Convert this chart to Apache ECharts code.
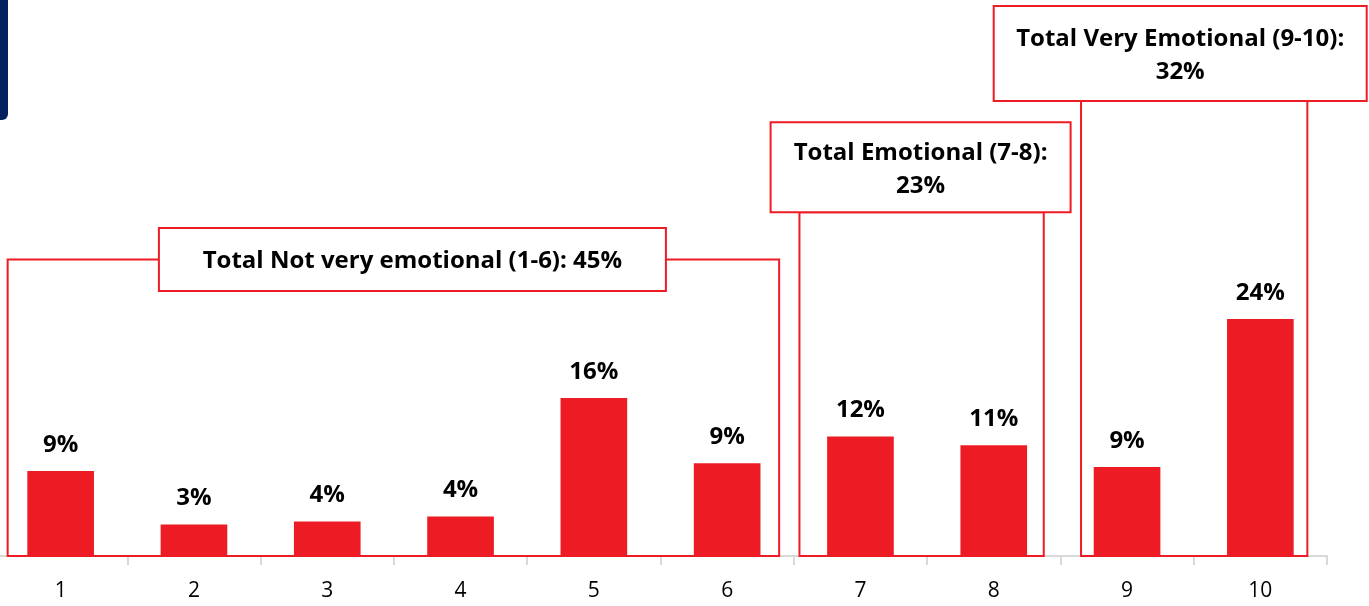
<!DOCTYPE html>
<html>
<head>
<meta charset="utf-8">
<script src="https://cdn.jsdelivr.net/npm/echarts@6/dist/echarts.min.js"></script>
<style>
html,body{margin:0;padding:0;background:#fff;overflow:hidden;}
#chart{position:absolute;left:-6px;top:0;width:1375px;height:606px;}
</style>
</head>
<body>
<div id="chart"></div>
<script>
// 数据
var categories = ['1', '2', '3', '4', '5', '6', '7', '8', '9', '10'];
var values = [8.6, 3.2, 3.5, 4.0, 16.0, 9.4, 12.1, 11.2, 9.0, 24.0];
var groupNames = ['Total Not very emotional (1-6): 45%', 'Total Emotional (7-8):\n23%', 'Total Very Emotional (9-10):\n32%'];
var groupFrom = [0, 6, 8];
var groupTo = [5, 7, 9];

var RED = '#ED1C24';
var FONT = 'Open Sans';

var chart = echarts.init(document.getElementById('chart'));
var option = {
    animation: false,
    grid: { left: 0, right: 42, top: 62, bottom: 50 },
    xAxis: {
        type: 'category',
        data: categories,
        axisLine: { lineStyle: { color: '#d9d9d9', width: 2 } },
        axisTick: { show: true, length: 9, lineStyle: { color: '#d9d9d9', width: 2 } },
        axisLabel: { fontSize: 21, color: '#000', margin: 25, fontFamily: FONT }
    },
    yAxis: { type: 'value', min: 0, max: 50, show: false, splitLine: { show: false } },
    series: [{
        type: 'bar',
        data: values,
        barWidth: '50%',
        z: 3,
        itemStyle: { color: RED },
        label: {
            show: true,
            position: 'top',
            distance: 14,
            fontSize: 24,
            fontWeight: 'bold',
            fontFamily: FONT,
            color: '#000',
            formatter: function (p) { return Math.round(p.value) + '%' }
        }
    }]
};
chart.setOption(option);

// 分组框 (layout only)
var boxLayout = [
    { padL: 53, padR: 52, top: 30, lw: 507, lh: 63, dx: 19, mid: true },
    { padL: 61, padR: 50, top: 34.8, lw: 300, lh: 90, dx: -1, mid: false },
    { padL: 46, padR: 47, top: 46.05, lw: 373, lh: 95, dx: -14, mid: false }
];
var graphics = [{
    type: 'rect',
    shape: { x: -4, y: -10, width: 18, height: 130, r: 6 },
    style: { fill: '#002060' },
    z: 10
}];
var yBase = chart.convertToPixel({ yAxisIndex: 0 }, 0);
for (var i = 0; i < groupNames.length; i++) {
    var L = boxLayout[i];
    var x0 = chart.convertToPixel({ xAxisIndex: 0 }, groupFrom[i]) - L.padL;
    var x1 = chart.convertToPixel({ xAxisIndex: 0 }, groupTo[i]) + L.padR;
    var yTop = chart.convertToPixel({ yAxisIndex: 0 }, L.top);
    var cx = (x0 + x1) / 2 + L.dx;
    var ly = L.mid ? yTop - L.lh / 2 : yTop - L.lh;
    graphics.push({
        type: 'rect',
        shape: { x: x0, y: yTop, width: x1 - x0, height: yBase - yTop },
        style: { fill: 'none', stroke: RED, lineWidth: 2 },
        z: 1
    });
    graphics.push({
        type: 'rect',
        shape: { x: cx - L.lw / 2, y: ly, width: L.lw, height: L.lh },
        style: { fill: '#fff', stroke: RED, lineWidth: 2 },
        z: 5
    });
    graphics.push({
        type: 'text',
        x: cx,
        y: ly + L.lh / 2 + 2,
        style: {
            text: groupNames[i],
            align: 'center',
            verticalAlign: 'middle',
            font: 'bold 24px ' + FONT,
            lineHeight: 33,
            fill: '#000'
        },
        z: 6
    });
}
chart.setOption({ graphic: graphics });
</script>
</body>
</html>
